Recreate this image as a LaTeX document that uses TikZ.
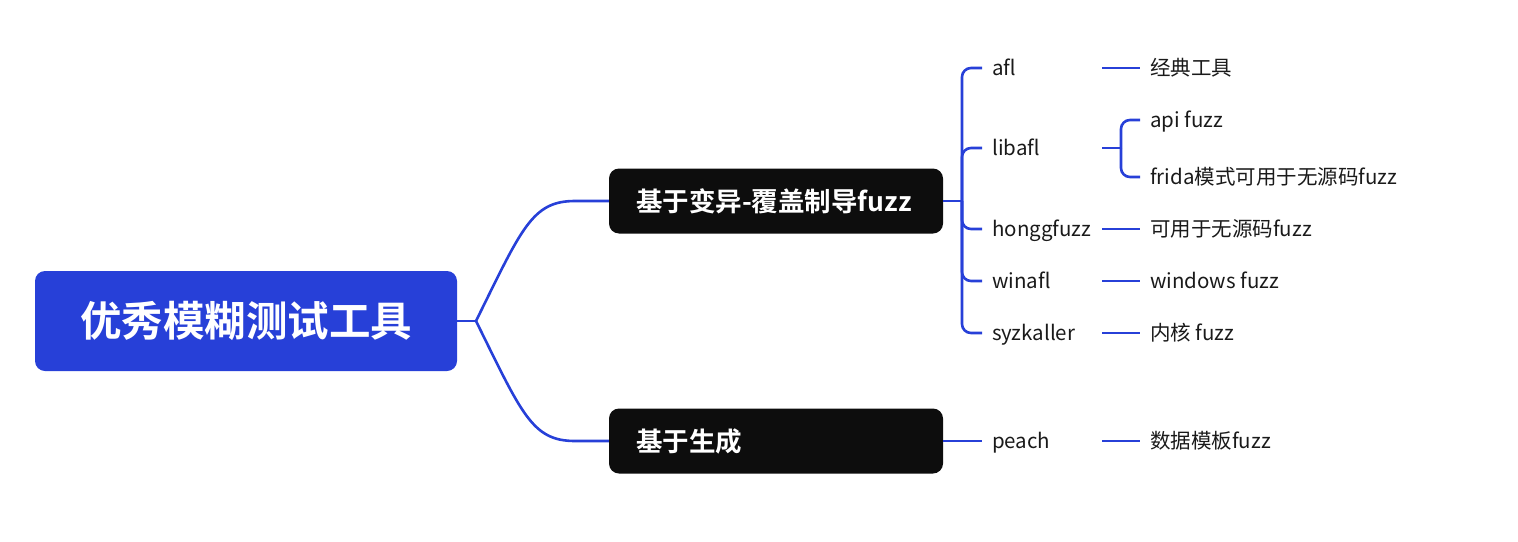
\documentclass[tikz,border=0pt]{standalone}
\usepackage{fontspec}
\setmainfont{Noto Sans CJK SC}[BoldFont={Noto Sans CJK SC Bold}]
\definecolor{lineblue}{RGB}{39,64,216}
\definecolor{boxblack}{RGB}{13,13,13}
\definecolor{textgray}{RGB}{26,26,26}
\begin{document}
\begin{tikzpicture}[x=1pt,y=1pt,
  conn/.style={draw=lineblue,line width=2.6pt},
  rootbox/.style={fill=lineblue,rounded corners=10pt,minimum width=422pt,minimum height=100pt,
    text=white,font=\bfseries\fontsize{41.5}{41.5}\selectfont,text height=31.5pt,text depth=0pt,inner sep=0pt},
  topicbox/.style={fill=boxblack,rounded corners=10pt,minimum height=65pt,text width=280pt,align=left,
    inner xsep=27pt,inner ysep=0pt,text=white,font=\bfseries\fontsize{26.5}{26.5}\selectfont,
    text height=20pt,text depth=0pt},
  leaf/.style={anchor=west,inner xsep=10pt,inner ysep=2pt,text=textgray,
    font=\fontsize{20.5}{20.5}\selectfont,text height=15.6pt,text depth=0pt},
  subtopic/.style={leaf,text width=100pt,align=left}]
\useasboundingbox (0,0) rectangle (1518,-541);

\node[rootbox] (root) at (246,-321) {优秀模糊测试工具};
\node[topicbox] (t1) at (776,-201) {基于变异-覆盖制导fuzz};
\node[topicbox] (t2) at (776,-441) {基于生成};

\coordinate (rj) at (476,-321);
\draw[conn] (root.east) -- (rj);
\draw[conn] (rj) .. controls (522,-228) and (532,-201) .. (575,-201) -- (t1.west);
\draw[conn] (rj) .. controls (522,-414) and (532,-441) .. (575,-441) -- (t2.west);

\node[subtopic] (afl) at (982,-68) {afl};
\node[subtopic] (libafl) at (982,-148) {libafl};
\node[subtopic] (hongg) at (982,-229) {honggfuzz};
\node[subtopic] (winafl) at (982,-281) {winafl};
\node[subtopic] (syz) at (982,-333) {syzkaller};
\node[subtopic] (peach) at (982,-441) {peach};

\coordinate (j1) at (962,-201);
\draw[conn] (t1.east) -- (j1);
\foreach \c in {afl,libafl,hongg,winafl,syz}
  \draw[conn,rounded corners=9pt] (j1) |- (\c.west);
\draw[conn] (t2.east) -- (peach.west);

\node[leaf] (jd) at (1140,-68) {经典工具};
\node[leaf] (api) at (1140,-120) {api fuzz};
\node[leaf] (frida) at (1140,-177) {frida模式可用于无源码fuzz};
\node[leaf] (wy) at (1140,-229) {可用于无源码fuzz};
\node[leaf] (win) at (1140,-281) {windows fuzz};
\node[leaf] (nh) at (1140,-333) {内核 fuzz};
\node[leaf] (sj) at (1140,-441) {数据模板fuzz};

\draw[conn] (afl.east) -- (jd.west);
\coordinate (j2) at (1121,-148);
\draw[conn] (libafl.east) -- (j2);
\draw[conn,rounded corners=9pt] (j2) |- (api.west);
\draw[conn,rounded corners=9pt] (j2) |- (frida.west);
\draw[conn] (hongg.east) -- (wy.west);
\draw[conn] (winafl.east) -- (win.west);
\draw[conn] (syz.east) -- (nh.west);
\draw[conn] (peach.east) -- (sj.west);
\end{tikzpicture}
\end{document}
